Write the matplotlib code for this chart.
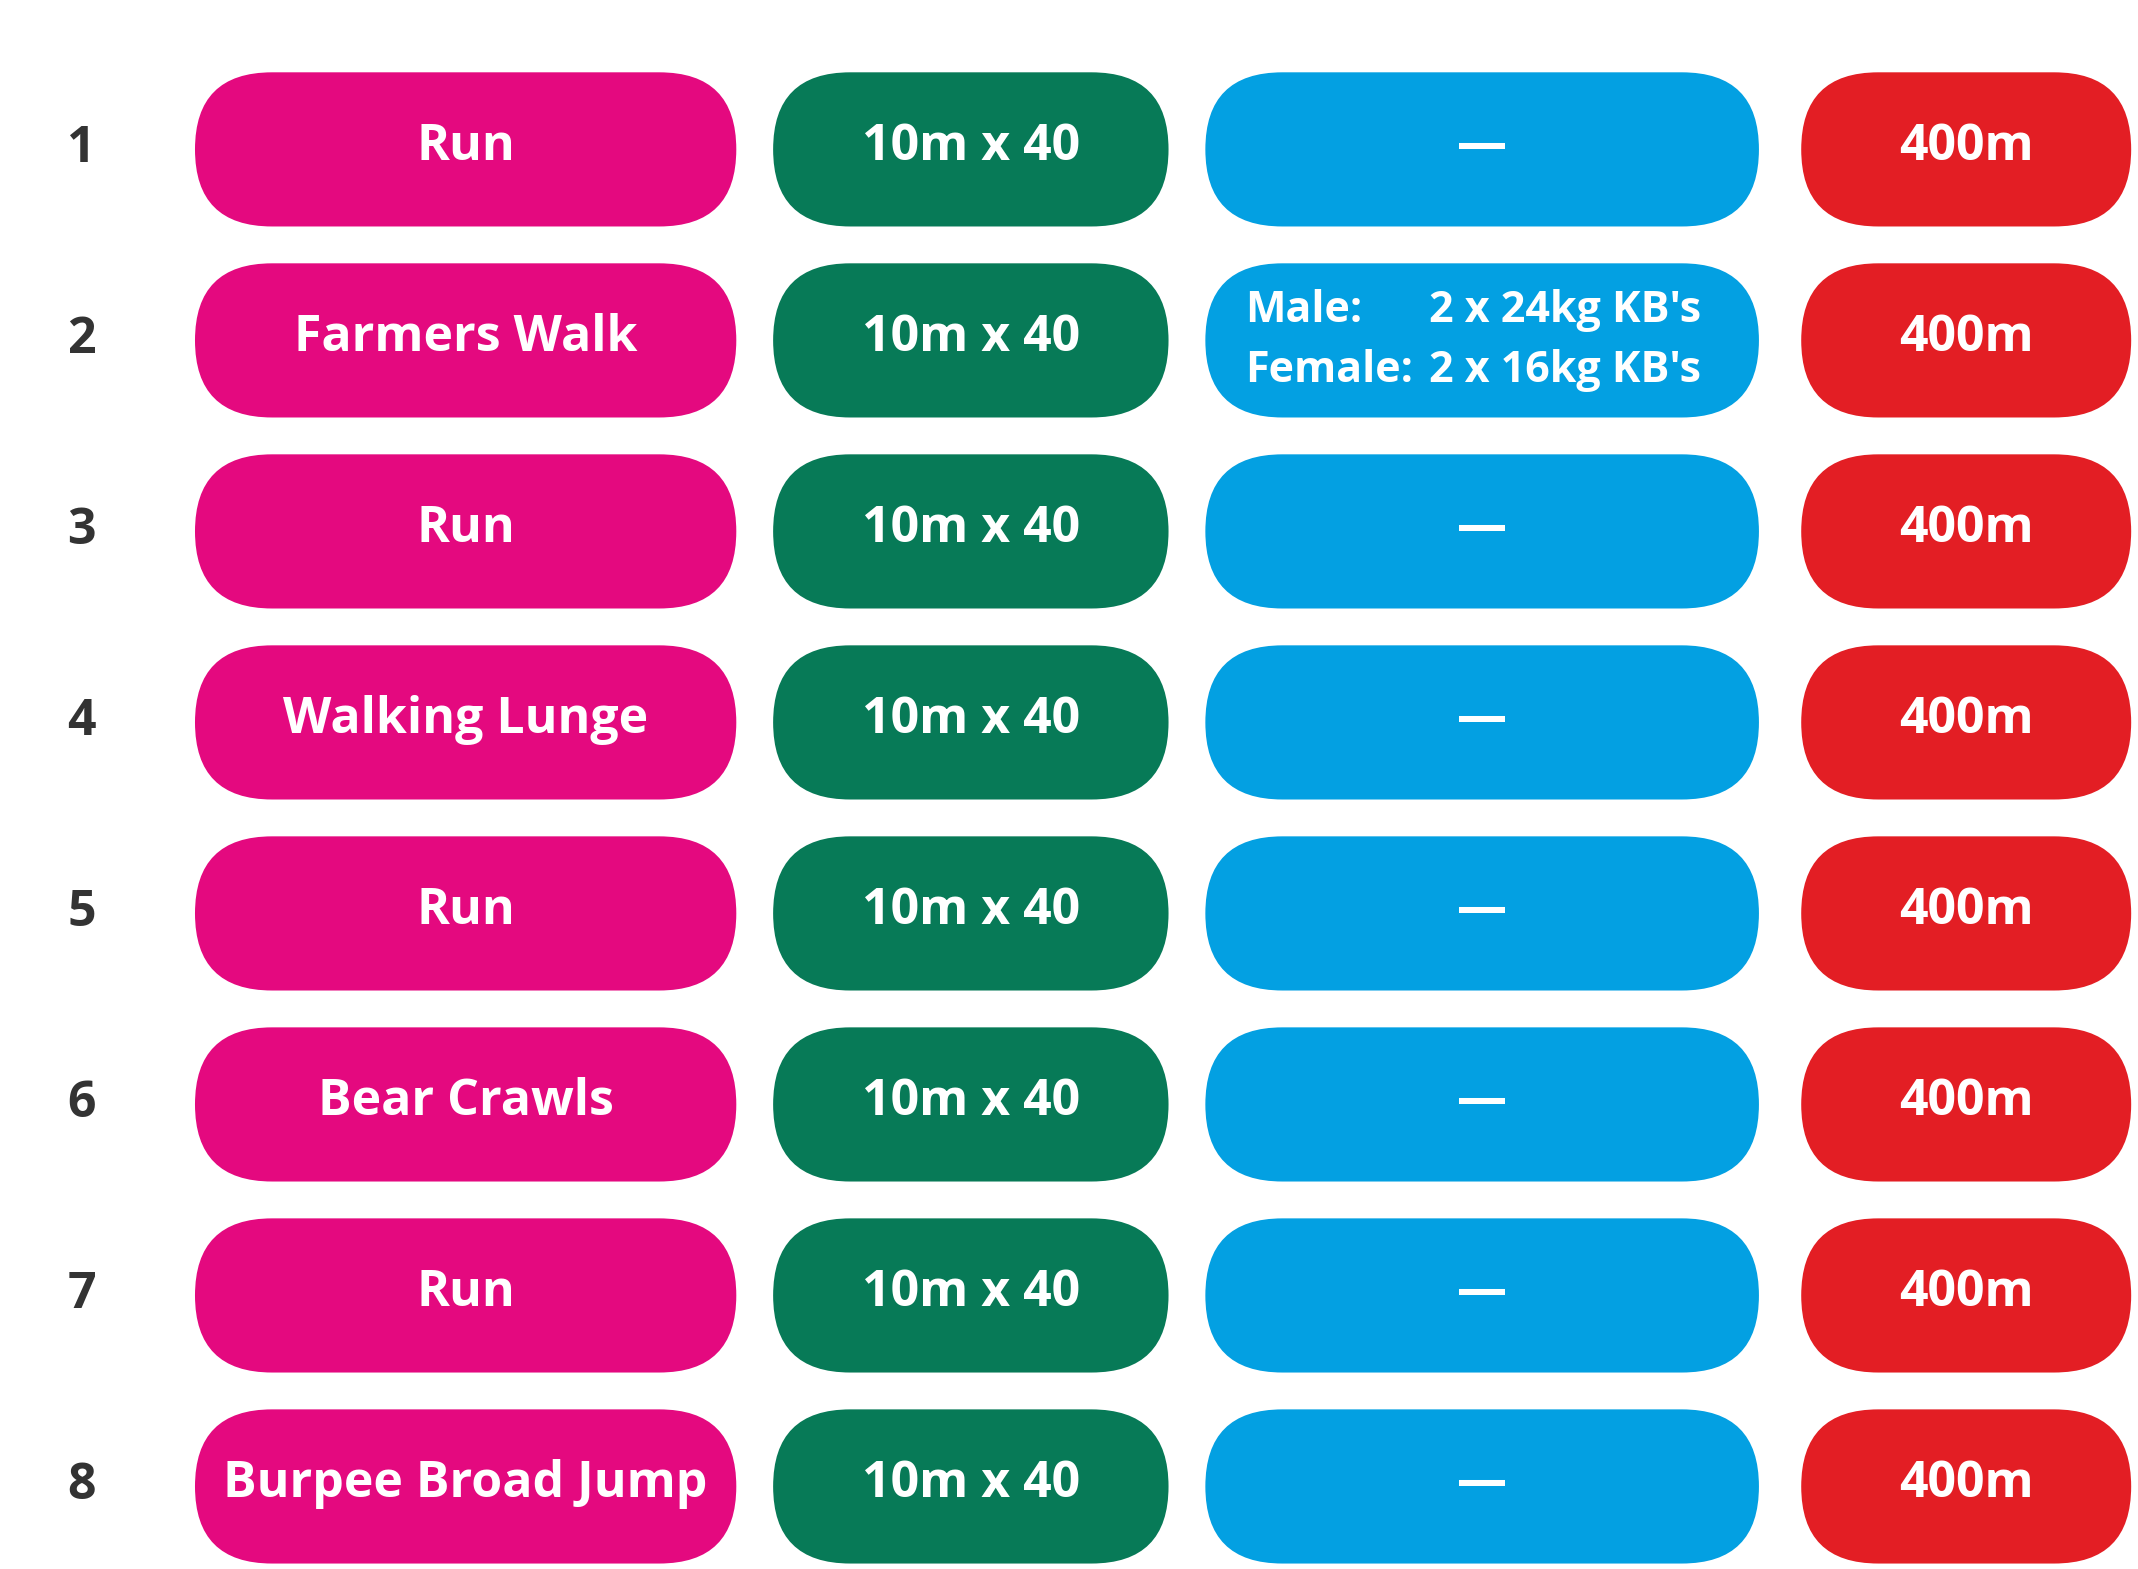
"""Workout station table drawn as rows of coloured pills."""

import matplotlib.pyplot as plt
from matplotlib.patches import FancyBboxPatch

# ── data ──────────────────────────────────────────────────────────────
stations = [1, 2, 3, 4, 5, 6, 7, 8]
exercises = ["Run", "Farmers Walk", "Run", "Walking Lunge", "Run",
             "Bear Crawls", "Run", "Burpee Broad Jump"]
distances = ["10m x 40"] * 8
weights = ["—", ("Male:", "2 x 24kg KB's", "Female:", "2 x 16kg KB's"),
           "—", "—", "—", "—", "—", "—"]
runs = ["400m"] * 8

# ── colours ───────────────────────────────────────────────────────────
C_PINK = "#E4097F"
C_GREEN = "#077A57"
C_BLUE = "#03A0E2"
C_RED = "#E31E24"
C_NUM = "#333333"

FONT = "Open Sans"

# column spans (x0, x1) in reference pixel space
COLS = [(143, 540, C_PINK), (567, 857, C_GREEN), (884, 1290, C_BLUE), (1321, 1563, C_RED)]
Y0, DY, H = 109.5, 140, 113


def _pill(ax, x0, x1, yc, color):
    ax.add_patch(FancyBboxPatch(
        (x0, yc - H / 2), x1 - x0, H,
        boxstyle=f"round,pad=0,rounding_size={H / 2}",
        facecolor=color, edgecolor="none", zorder=2,
    ))


def _label(ax, x, y, s, size=36, color="white", ha="center"):
    ax.text(x, y, s, ha=ha, va="center", fontsize=size, fontweight="bold",
            color=color, family=FONT, zorder=3)


def main():
    fig = plt.figure(figsize=(21.38, 15.69), dpi=100)
    ax = fig.add_axes([0, 0, 1, 1])
    ax.set_xlim(0, 1568)
    ax.set_ylim(1150, 0)
    ax.axis("off")

    for i, n in enumerate(stations):
        yc = Y0 + i * DY
        _label(ax, 60, yc, str(n), color=C_NUM)
        for (x0, x1, c) in COLS:
            _pill(ax, x0, x1, yc, c)
        texts = [exercises[i], distances[i], weights[i], runs[i]]
        for (x0, x1, _), t in zip(COLS, texts):
            xc = (x0 + x1) / 2
            if isinstance(t, tuple):
                _label(ax, 913, yc - 22, t[0], size=31, ha="left")
                _label(ax, 1048, yc - 22, t[1], size=31, ha="left")
                _label(ax, 913, yc + 22, t[2], size=31, ha="left")
                _label(ax, 1048, yc + 22, t[3], size=31, ha="left")
            else:
                _label(ax, xc, yc - 2, t)

    fig.savefig("out.png", dpi=100)


if __name__ == "__main__":
    main()
